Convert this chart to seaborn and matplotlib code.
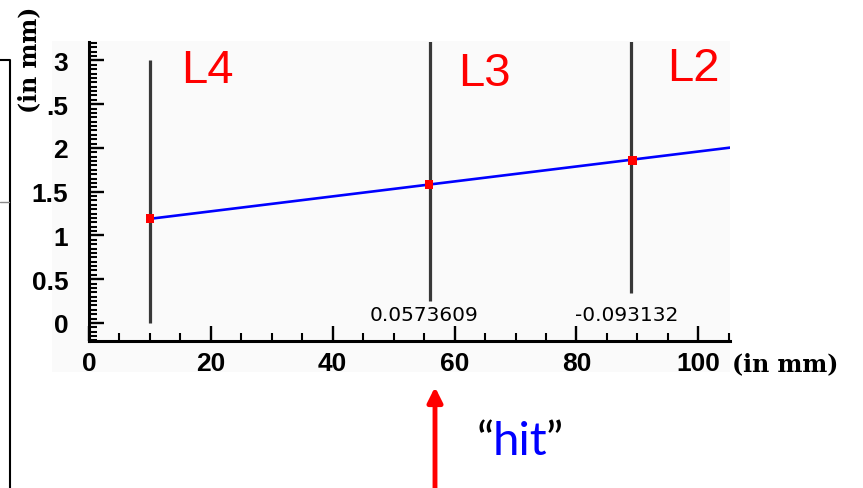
import pandas as pd
import matplotlib.pyplot as plt
import seaborn as sns
from matplotlib.patches import Rectangle
from matplotlib.lines import Line2D
from matplotlib.ticker import MultipleLocator

# Data
layer_names = ["L4", "L3", "L2"]
layer_x = [10, 56, 89]
layer_ymin = [0.0, 0.25, 0.34]
layer_ymax = [3.0, 3.4, 3.4]
hit_x = [10, 55.8, 89.2]
hit_y = [1.19, 1.58, 1.86]
track_x = [10, 106]
track_y = [1.19, 2.01]
residual_text = ["0.0573609", "-0.093132"]
residual_x = [55, 88.2]
residual_y = [0.10, 0.10]
x_ticks = [0, 20, 40, 60, 80, 100]
y_ticks = [0, 0.5, 1, 1.5, 2, 2.5, 3]
y_ticklabels = ["0", "0.5", "1", "1.5", "2", ".5", "3"]

sns.set_style("white")
plt.rcParams['font.family'] = ['Liberation Sans', 'DejaVu Sans']
plt.rcParams['text.color'] = 'black'
plt.rcParams['xtick.color'] = 'black'
plt.rcParams['ytick.color'] = 'black'

W, H = 863, 489
fig = plt.figure(figsize=(W / 100, H / 100), dpi=100)
fig.patch.set_facecolor("white")

def fx(px):
    return px / W

def fy(py):
    return 1 - py / H

# light background of the pasted plot image
fig.patches.append(Rectangle((fx(52), fy(373)), fx(730 - 52), (373 - 42) / H,
                             transform=fig.transFigure, facecolor="#fafafa",
                             edgecolor="none", zorder=-5))

ax = fig.add_axes([fx(89), fy(342), fx(730 - 89), (342 - 43) / H])
ax.set_facecolor("none")
ax.set_zorder(2)

# detector layers
ax.vlines(layer_x, layer_ymin, layer_ymax, color="#383838", lw=2.3, zorder=2)

# fitted track and hits
track = pd.DataFrame({"x": track_x, "y": track_y})
hits = pd.DataFrame({"x": hit_x, "y": hit_y})
sns.lineplot(data=track, x="x", y="y", ax=ax, color="#0000ff", lw=1.9, zorder=3)
sns.scatterplot(data=hits, x="x", y="y", ax=ax, color="red", marker="s",
                s=40, edgecolor="none", zorder=4)

ax.set_xlim(0, 105.2)
ax.set_ylim(-0.206, 3.21)
ax.set_xlabel("")
ax.set_ylabel("")

ax.set_xticks(x_ticks)
ax.set_yticks(y_ticks)
ax.set_yticklabels(y_ticklabels)
ax.xaxis.set_minor_locator(MultipleLocator(5))
ax.yaxis.set_minor_locator(MultipleLocator(0.05))
ax.tick_params(which="major", direction="in", length=11, width=1.7, color="black",
               labelcolor="black", labelsize=19, pad=7, bottom=True, left=True)
ax.tick_params(which="minor", direction="in", length=5.5, width=1.5, color="black",
               bottom=True, left=True)
ax.tick_params(axis="y", which="major", pad=15)
for lab in ax.get_xticklabels() + ax.get_yticklabels():
    lab.set_fontweight("bold")

for side in ["top", "right"]:
    ax.spines[side].set_visible(False)
for side in ["left", "bottom"]:
    ax.spines[side].set_linewidth(2.2)
    ax.spines[side].set_color("black")

# residual values under the layers
for t, x, y in zip(residual_text, residual_x, residual_y):
    ax.text(x, y, t, ha="center", va="center", fontsize=14.5,
            family=["DejaVu Sans"], color="black", zorder=5)

# layer names
name_pos = [(19.4, 2.754), (64.9, 2.72), (99.2, 2.78)]
for name, (x, y) in zip(layer_names, name_pos):
    ax.text(x, y, name, ha="center", va="baseline", fontsize=34, color="red",
            clip_on=False, zorder=5)

# axis unit labels
fig.text(fx(732), fy(364), "(in mm)", ha="left", va="center", fontsize=17,
         fontweight="bold", family=["DejaVu Serif"], color="black")
fig.text(fx(29), fy(60), "(in mm)", ha="center", va="center", fontsize=17,
         fontweight="bold", family=["DejaVu Serif"], rotation=90, color="black")

# "hit" arrow and label
ax.annotate("", xy=(435, H - 388), xytext=(435, -5), xycoords="figure pixels",
            textcoords="figure pixels",
            arrowprops=dict(arrowstyle="-|>", color="red", lw=3.5,
                            mutation_scale=22, shrinkA=0, shrinkB=0))
fig.text(fx(477), fy(455), "\u201c", ha="left", va="baseline", fontsize=34,
         family=["Lato"], color="black")
fig.text(fx(493), fy(455), "hit", ha="left", va="baseline", fontsize=34,
         family=["Lato"], color="#0000ff")
fig.text(fx(546), fy(455), "\u201d", ha="left", va="baseline", fontsize=34,
         family=["Lato"], color="black")

# slide frame on the left
fig.lines.append(Line2D([0, fx(10), fx(10)], [fy(61), fy(61), 0],
                        transform=fig.transFigure, color="black", lw=1.5))
fig.lines.append(Line2D([0, fx(9)], [fy(203), fy(203)],
                        transform=fig.transFigure, color="#888888", lw=1.0))

fig.savefig("out.png", dpi=100)
